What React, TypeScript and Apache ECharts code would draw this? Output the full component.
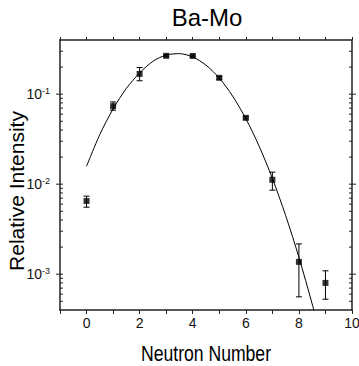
import React, { useEffect, useRef } from 'react';
import * as echarts from 'echarts';

// Measured points (neutron number vs relative intensity)
const neutronNumbers = [0, 1, 2, 3, 4, 5, 6, 7, 8, 9];
const intensity = [0.0065, 0.0736, 0.168, 0.267, 0.266, 0.152, 0.0546, 0.0112, 0.00137, 0.0008];
const errLow = [0.00555, 0.0664, 0.141, 0.26, 0.259, 0.147, 0.053, 0.00858, 0.00056, 0.000527];
const errHigh = [0.00736, 0.082, 0.198, 0.274, 0.273, 0.157, 0.0562, 0.0136, 0.00217, 0.00109];

// Fitted curve
const fitX = [0, 0.5, 1, 1.5, 2, 2.5, 3, 3.5, 4, 4.5, 5, 5.5, 6, 6.5, 7, 7.5, 8, 8.5, 8.7];
const fitY = [0.0158, 0.0356, 0.0685, 0.116, 0.172, 0.232, 0.272, 0.282, 0.259, 0.21, 0.151, 0.0955, 0.0535, 0.0265, 0.0116, 0.00449, 0.00154, 0.000467, 0.000279];

// Axis ticks
const xTickLabels = ['0', '2', '4', '6', '8', '10'];
const yMajorTicks = [0.001, 0.01, 0.1];
const yMinorTicks = [
  0.0005, 0.0006, 0.0007, 0.0008, 0.0009,
  0.002, 0.003, 0.004, 0.005, 0.006, 0.007, 0.008, 0.009,
  0.02, 0.03, 0.04, 0.05, 0.06, 0.07, 0.08, 0.09,
  0.2, 0.3,
];

const SANS = "'Liberation Sans', Arial, sans-serif";
const AXIS_COLOR = '#222';

export default function App() {
  const ref = useRef<HTMLDivElement>(null);

  useEffect(() => {
    const chart = echarts.init(ref.current!, null, { renderer: 'svg' });
    const X_MIN = -1;
    const X_MAX = 10;

    const tickData = [
      ...yMajorTicks.map((v) => [X_MIN, v, 1]),
      ...yMinorTicks.map((v) => [X_MIN, v, 0]),
    ];

    const commonX = {
      type: 'value',
      min: X_MIN,
      max: X_MAX,
      interval: 1,
      splitLine: { show: false },
      axisLine: { show: true, onZero: false, lineStyle: { color: AXIS_COLOR, width: 1.5 } },
    };
    const commonY = {
      type: 'log',
      logBase: 10,
      min: 0.0004,
      max: 0.4,
      splitLine: { show: false },
      axisTick: { show: false },
      axisLine: { show: true, onZero: false, lineStyle: { color: AXIS_COLOR, width: 1.5 } },
    };

    const option: any = {
      animation: false,
      backgroundColor: '#fff',
      grid: { left: 60, right: 7, top: 40, bottom: 56, outerBoundsMode: 'none', containLabel: false },
      xAxis: [
        {
          ...commonX,
          position: 'bottom',
          axisTick: { show: true, length: 4, lineStyle: { color: AXIS_COLOR, width: 1 } },
          axisLabel: {
            margin: 6,
            fontFamily: SANS,
            fontSize: 14,
            color: '#111',
            formatter: (v: number) => (xTickLabels.includes(String(v)) ? String(v) : ''),
          },
        },
        {
          ...commonX,
          position: 'top',
          axisTick: { show: true, length: 3, lineStyle: { color: AXIS_COLOR, width: 1 } },
          axisLabel: { show: false },
        },
      ],
      yAxis: [
        {
          ...commonY,
          position: 'left',
          axisLabel: {
            margin: 10,
            formatter: (v: number) => {
              const e = Math.log10(v);
              const r = Math.round(e);
              if (Math.abs(e - r) > 1e-6) return '';
              return `{b|10}{s|${r}}`;
            },
            rich: {
              b: { fontFamily: SANS, fontSize: 14, color: '#111', lineHeight: 16 },
              s: { fontFamily: SANS, fontSize: 9, color: '#111', lineHeight: 10, verticalAlign: 'top' },
            },
          },
        },
        {
          ...commonY,
          position: 'right',
          axisLabel: { show: false },
        },
      ],
      graphic: [
        {
          type: 'text',
          x: 207,
          y: 17,
          style: { text: 'Ba-Mo', font: `24px ${SANS}`, fill: '#000', textAlign: 'center', textVerticalAlign: 'middle' },
        },
        {
          type: 'text',
          x: 206,
          y: 353,
          scaleX: 0.8,
          style: { text: 'Neutron Number', font: `22px ${SANS}`, fill: '#000', textAlign: 'center', textVerticalAlign: 'middle' },
        },
        {
          type: 'text',
          x: 16,
          y: 191,
          rotation: Math.PI / 2,
          style: { text: 'Relative Intensity', font: `21px ${SANS}`, fill: '#000', textAlign: 'center', textVerticalAlign: 'middle' },
        },
      ],
      series: [
        {
          type: 'custom',
          name: 'yticks',
          xAxisIndex: 0,
          yAxisIndex: 0,
          clip: false,
          silent: true,
          encode: { x: 0, y: 1 },
          data: tickData,
          renderItem: (params: any, api: any) => {
            const v = api.value(1);
            const major = api.value(2) === 1;
            const pL = api.coord([X_MIN, v]);
            const pR = api.coord([X_MAX, v]);
            const style = { stroke: AXIS_COLOR, lineWidth: 1 };
            return {
              type: 'group',
              children: major
                ? [
                    { type: 'line', shape: { x1: pL[0] - 4, y1: pL[1], x2: pL[0] + 3, y2: pL[1] }, style },
                    { type: 'line', shape: { x1: pR[0] - 3, y1: pR[1], x2: pR[0] + 4, y2: pR[1] }, style },
                  ]
                : [
                    { type: 'line', shape: { x1: pL[0], y1: pL[1], x2: pL[0] + 3, y2: pL[1] }, style },
                    { type: 'line', shape: { x1: pR[0] - 3, y1: pR[1], x2: pR[0], y2: pR[1] }, style },
                  ],
            };
          },
          z: 5,
        },
        {
          type: 'line',
          name: 'fit',
          xAxisIndex: 0,
          yAxisIndex: 0,
          data: fitX.map((x, i) => [x, fitY[i]]),
          smooth: 0.3,
          showSymbol: false,
          symbol: 'none',
          clip: true,
          lineStyle: { color: '#000', width: 1 },
          z: 2,
        },
        {
          type: 'custom',
          name: 'errors',
          xAxisIndex: 0,
          yAxisIndex: 0,
          encode: { x: 0, y: [1, 2] },
          data: neutronNumbers.map((x, i) => [x, errLow[i], errHigh[i]]),
          renderItem: (params: any, api: any) => {
            const x = api.value(0);
            const lo = api.coord([x, api.value(1)]);
            const hi = api.coord([x, api.value(2)]);
            const style = { stroke: '#000', lineWidth: 1 };
            return {
              type: 'group',
              children: [
                { type: 'line', shape: { x1: lo[0], y1: lo[1], x2: hi[0], y2: hi[1] }, style },
                { type: 'line', shape: { x1: lo[0] - 3, y1: lo[1], x2: lo[0] + 3, y2: lo[1] }, style },
                { type: 'line', shape: { x1: hi[0] - 3, y1: hi[1], x2: hi[0] + 3, y2: hi[1] }, style },
              ],
            };
          },
          z: 3,
        },
        {
          type: 'scatter',
          name: 'data',
          xAxisIndex: 0,
          yAxisIndex: 0,
          data: neutronNumbers.map((x, i) => [x, intensity[i]]),
          symbol: 'rect',
          symbolSize: 6,
          itemStyle: { color: '#000' },
          z: 4,
        },
      ],
    };

    chart.setOption(option);
    return () => chart.dispose();
  }, []);

  return <div ref={ref} style={{ position: 'fixed', left: 0, top: 0, width: 359, height: 366 }} />;
}
